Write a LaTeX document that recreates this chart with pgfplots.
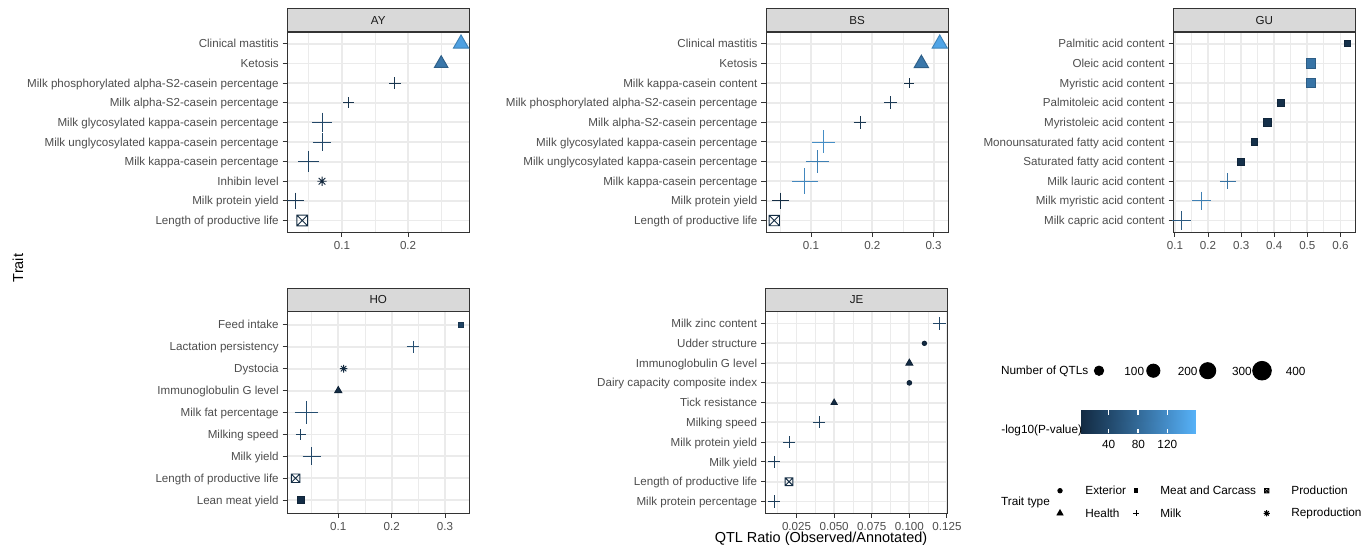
\documentclass[border=0pt]{standalone}
\usepackage{fontspec}
\setmainfont{Liberation Sans}
\usepackage{pgfplots}
\pgfplotsset{compat=1.18}
\definecolor{gray10}{HTML}{1A1A1A}
\definecolor{gray20}{HTML}{333333}
\definecolor{gray30}{HTML}{4D4D4D}
\definecolor{gray85}{HTML}{D9D9D9}
\definecolor{gray92}{HTML}{EBEBEB}
\newcommand\tfont{\fontsize{5.8}{6.5}\selectfont}
\newcommand\lfont{\fontsize{5.9}{6.6}\selectfont}
\newcommand\afont{\fontsize{7.24}{8.5}\selectfont}

\pgfdeclareplotmark{boxx}{%
  \pgfpathrectangle{\pgfqpoint{-\pgfplotmarksize}{-\pgfplotmarksize}}{\pgfqpoint{2\pgfplotmarksize}{2\pgfplotmarksize}}%
  \pgfpathmoveto{\pgfqpoint{-\pgfplotmarksize}{-\pgfplotmarksize}}\pgfpathlineto{\pgfqpoint{\pgfplotmarksize}{\pgfplotmarksize}}%
  \pgfpathmoveto{\pgfqpoint{-\pgfplotmarksize}{\pgfplotmarksize}}\pgfpathlineto{\pgfqpoint{\pgfplotmarksize}{-\pgfplotmarksize}}%
  \pgfusepathqstroke}
\pgfdeclareplotmark{rast}{%
  \pgfpathmoveto{\pgfqpoint{-\pgfplotmarksize}{0pt}}\pgfpathlineto{\pgfqpoint{\pgfplotmarksize}{0pt}}%
  \pgfpathmoveto{\pgfqpoint{0pt}{-\pgfplotmarksize}}\pgfpathlineto{\pgfqpoint{0pt}{\pgfplotmarksize}}%
  \pgfpathmoveto{\pgfqpoint{-0.7071\pgfplotmarksize}{-0.7071\pgfplotmarksize}}\pgfpathlineto{\pgfqpoint{0.7071\pgfplotmarksize}{0.7071\pgfplotmarksize}}%
  \pgfpathmoveto{\pgfqpoint{-0.7071\pgfplotmarksize}{0.7071\pgfplotmarksize}}\pgfpathlineto{\pgfqpoint{0.7071\pgfplotmarksize}{-0.7071\pgfplotmarksize}}%
  \pgfusepathqstroke}
\pgfdeclareplotmark{rtri}{%
  \pgfpathmoveto{\pgfqpoint{0pt}{\pgfplotmarksize}}%
  \pgfpathlineto{\pgfqpoint{0.866\pgfplotmarksize}{-0.5\pgfplotmarksize}}%
  \pgfpathlineto{\pgfqpoint{-0.866\pgfplotmarksize}{-0.5\pgfplotmarksize}}%
  \pgfpathclose\pgfusepathqfillstroke}

\pgfplotsset{
  colormap={qtl}{rgb255=(19,43,67) rgb255=(34,73,108) rgb255=(51,106,152) rgb255=(68,140,199) rgb255=(86,177,247)},
  sz/.style={visualization depends on={\thisrow{n} \as \qn},
     scatter/@pre marker code/.append style={/tikz/mark size={#1*sqrt(\qn)}}},
  pts/.style={only marks, scatter, point meta=explicit, mark options={line width=0.47pt, solid}},
  ext/.style={pts, mark=*, sz=0.2325},
  hlt/.style={pts, mark=rtri, sz=0.3615},
  meat/.style={pts, mark=square*, sz=0.206},
  milk/.style={pts, mark=+, sz=0.3288},
  prod/.style={pts, mark=boxx, sz=0.2325},
  repr/.style={pts, mark=rast, sz=0.3288},
  blk/.style={scatter/use mapped color={draw=black,fill=black}},
  panel/.style={
    scale only axis, anchor=south west, width=91pt,
    ymin=0.4,
    tick pos=left, tick align=outside,
    major tick length=2.3pt, minor tick length=0pt,
    tick style={gray20, line width=0.5pt},
    axis line style={gray20, line width=0.5pt},
    grid=both,
    major grid style={gray92, line width=0.9pt},
    minor grid style={gray92, line width=0.45pt},
    ticklabel style={font=\tfont, text=gray30, text height=4.1pt, text depth=0pt},
    yticklabel style={inner sep=1.8pt},
    xticklabel style={inner sep=2pt},
    scaled ticks=false,
    /pgf/number format/assume math mode=true,
    colormap name=qtl, point meta min=1.8, point meta max=158,
    every axis title/.style={at={(0.5,1)}, anchor=south, inner sep=0pt,
      minimum width=91pt, minimum height=11.4pt, fill=gray85, draw=gray20,
      line width=0.5pt, font=\tfont, text=gray10},
  },
}

\begin{document}
\begin{tikzpicture}
\useasboundingbox (0,0) rectangle (684.5pt,274pt);

% ---------------- AY
\begin{axis}[panel, at={(143.65pt,157.85pt)}, height=100.15pt, title={AY},
  xmin=0.0175, xmax=0.2925, ymax=10.6,
  xtick={0.1,0.2}, minor xtick={0.05,0.15,0.25},
  ytick={1,...,10},
  yticklabels={Length of productive life, Milk protein yield, Inhibin level, Milk kappa-casein percentage, Milk unglycosylated kappa-casein percentage, Milk glycosylated kappa-casein percentage, Milk alpha-S2-casein percentage, Milk phosphorylated alpha-S2-casein percentage, Ketosis, Clinical mastitis}]
\addplot[hlt] table[x=x,y=y,meta=p,row sep=\\]{y x p n\\ 10 0.28 140 150\\ 9 0.25 95 114\\};
\addplot[milk] table[x=x,y=y,meta=p,row sep=\\]{y x p n\\ 8 0.18 33 74\\ 7 0.11 30 66\\ 6 0.07 60 215\\ 5 0.07 60 194\\ 4 0.05 55 262\\ 2 0.03 40 161\\};
\addplot[repr] table[x=x,y=y,meta=p,row sep=\\]{y x p n\\ 3 0.07 10 50\\};
\addplot[prod] table[x=x,y=y,meta=p,row sep=\\]{y x p n\\ 1 0.04 15 135\\};
\end{axis}

% ---------------- BS
\begin{axis}[panel, at={(383pt,157.85pt)}, height=100.15pt, title={BS},
  xmin=0.0265, xmax=0.3235, ymax=10.6,
  xtick={0.1,0.2,0.3}, minor xtick={0.05,0.15,0.25},
  ytick={1,...,10},
  yticklabels={Length of productive life, Milk protein yield, Milk kappa-casein percentage, Milk unglycosylated kappa-casein percentage, Milk glycosylated kappa-casein percentage, Milk alpha-S2-casein percentage, Milk phosphorylated alpha-S2-casein percentage, Milk kappa-casein content, Ketosis, Clinical mastitis}]
\addplot[hlt] table[x=x,y=y,meta=p,row sep=\\]{y x p n\\ 10 0.31 145 150\\ 9 0.28 95 131\\};
\addplot[milk] table[x=x,y=y,meta=p,row sep=\\]{y x p n\\ 8 0.26 25 50\\ 7 0.23 40 93\\ 6 0.18 35 93\\ 5 0.12 158 306\\ 4 0.11 140 297\\ 3 0.09 150 390\\ 2 0.05 20 161\\};
\addplot[prod] table[x=x,y=y,meta=p,row sep=\\]{y x p n\\ 1 0.04 20 127\\};
\end{axis}

% ---------------- GU
\begin{axis}[panel, at={(586.65pt,157.85pt)}, height=100.15pt, title={GU},
  xmin=0.095, xmax=0.645, ymax=10.6,
  xtick={0.1,0.2,0.3,0.4,0.5,0.6}, minor xtick={0.15,0.25,0.35,0.45,0.55},
  ytick={1,...,10},
  yticklabels={Milk capric acid content, Milk myristic acid content, Milk lauric acid content, Saturated fatty acid content, Monounsaturated fatty acid content, Myristoleic acid content, Palmitoleic acid content, Myristic acid content, Oleic acid content, Palmitic acid content}]
\addplot[meat] table[x=x,y=y,meta=p,row sep=\\]{y x p n\\ 10 0.62 8 53\\ 9 0.51 92 128\\ 8 0.51 92 128\\ 7 0.42 8 66\\ 6 0.38 8 80\\ 5 0.34 8 66\\ 4 0.30 8 70\\};
\addplot[milk] table[x=x,y=y,meta=p,row sep=\\]{y x p n\\ 3 0.26 123 148\\ 2 0.18 140 201\\ 1 0.12 88 194\\};
\end{axis}

% ---------------- HO
\begin{axis}[panel, at={(143.65pt,17.35pt)}, height=100.8pt, title={HO},
  xmin=0.0045, xmax=0.3455, ymax=9.6,
  xtick={0.1,0.2,0.3}, minor xtick={0.05,0.15,0.25},
  ytick={1,...,9},
  yticklabels={Lean meat yield, Length of productive life, Milk yield, Milking speed, Milk fat percentage, Immunoglobulin G level, Dystocia, Lactation persistency, Feed intake}]
\addplot[meat] table[x=x,y=y,meta=p,row sep=\\]{y x p n\\ 9 0.33 33 37\\ 1 0.03 5 66\\};
\addplot[milk] table[x=x,y=y,meta=p,row sep=\\]{y x p n\\ 8 0.24 72 88\\ 5 0.04 70 314\\ 4 0.03 50 66\\ 3 0.05 60 187\\};
\addplot[repr] table[x=x,y=y,meta=p,row sep=\\]{y x p n\\ 7 0.11 15 34\\};
\addplot[hlt] table[x=x,y=y,meta=p,row sep=\\]{y x p n\\ 6 0.10 5 31\\};
\addplot[prod] table[x=x,y=y,meta=p,row sep=\\]{y x p n\\ 2 0.02 20 84\\};
\end{axis}

% ---------------- JE
\begin{axis}[panel, at={(382.85pt,17.35pt)}, height=100.8pt, title={JE},
  xmin=0.0045, xmax=0.1255, ymax=10.6,
  xtick={0.025,0.05,0.075,0.1,0.125}, minor xtick={0.0125,0.0375,0.0625,0.0875,0.1125},
  xticklabel style={/pgf/number format/.cd, fixed, fixed zerofill, precision=3},
  ytick={1,...,10},
  yticklabels={Milk protein percentage, Length of productive life, Milk yield, Milk protein yield, Milking speed, Tick resistance, Dairy capacity composite index, Immunoglobulin G level, Udder structure, Milk zinc content}]
\addplot[milk] table[x=x,y=y,meta=p,row sep=\\]{y x p n\\ 10 0.12 60 88\\ 5 0.04 50 83\\ 4 0.02 50 83\\ 3 0.01 45 83\\ 1 0.01 45 93\\};
\addplot[ext] table[x=x,y=y,meta=p,row sep=\\]{y x p n\\ 9 0.11 3 22\\ 7 0.10 3 25\\};
\addplot[hlt] table[x=x,y=y,meta=p,row sep=\\]{y x p n\\ 8 0.10 3 29\\ 6 0.05 3 23\\};
\addplot[prod] table[x=x,y=y,meta=p,row sep=\\]{y x p n\\ 2 0.02 20 70\\};
\end{axis}

% ---------------- colour bar
\begin{axis}[at={(540.35pt,57.35pt)}, anchor=south west, scale only axis, width=57.15pt, height=11.5pt,
  xmin=1.8, xmax=158, ymin=0, ymax=1, enlargelimits=false,
  axis line style={draw=none}, xtick={40,80,120}, ytick=\empty, xticklabels={},
  tick align=inside, tick pos=both, major tick length=2.3pt, tick style={white, line width=0.6pt},
  axis on top, colormap name=qtl, point meta min=1.8, point meta max=158]
\addplot[surf, shader=interp, point meta=x, mesh/cols=2] coordinates {(1.8,0) (158,0) (1.8,1) (158,1)};
\end{axis}

% ---------------- overlay: titles and legends (pixel coordinates)
\begin{axis}[at={(0pt,0pt)}, anchor=south west, scale only axis, width=684.5pt, height=274pt,
  xmin=0, xmax=1369, ymin=0, ymax=548, hide axis, clip=false,
  colormap name=qtl, point meta min=1.8, point meta max=158]
\node[rotate=90, font=\afont] at (axis cs:18,280) {Trait};
\node[font=\afont] at (axis cs:821,9.7) {QTL Ratio (Observed/Annotated)};
% size legend
\node[anchor=west, font=\lfont] at (axis cs:994,177) {Number of QTLs};
\addplot[blk, ext] table[x=x,y=y,meta=n,row sep=\\]{x y n\\ 1099 177.3 100\\ 1153.3 177.3 200\\ 1207.7 177.3 300\\ 1262 177.3 400\\};
\node[anchor=west, font=\lfont] at (axis cs:1117.3,177) {100};
\node[anchor=west, font=\lfont] at (axis cs:1170.7,177) {200};
\node[anchor=west, font=\lfont] at (axis cs:1225,177) {300};
\node[anchor=west, font=\lfont] at (axis cs:1278.7,177) {400};
% colour legend
\node[anchor=west, font=\lfont] at (axis cs:994.3,117.3) {-log10(P-value)};
\node[font=\lfont] at (axis cs:1108.7,104) {40};
\node[font=\lfont] at (axis cs:1138.3,104) {80};
\node[font=\lfont] at (axis cs:1167.3,104) {120};
% trait type legend
\node[anchor=west, font=\lfont] at (axis cs:994,45.3) {Trait type};
\addplot[blk, ext] table[x=x,y=y,meta=n,row sep=\\]{x y n\\ 1060 57.3 22\\};
\addplot[blk, hlt] table[x=x,y=y,meta=n,row sep=\\]{x y n\\ 1060 34.7 22\\};
\addplot[blk, meat] table[x=x,y=y,meta=n,row sep=\\]{x y n\\ 1136 57.3 22\\};
\addplot[blk, milk] table[x=x,y=y,meta=n,row sep=\\]{x y n\\ 1136 34.7 22\\};
\addplot[blk, prod] table[x=x,y=y,meta=n,row sep=\\]{x y n\\ 1266.7 57.3 22\\};
\addplot[blk, repr] table[x=x,y=y,meta=n,row sep=\\]{x y n\\ 1266.7 34.7 22\\};
\node[anchor=west, font=\lfont] at (axis cs:1078.3,57.3) {Exterior};
\node[anchor=west, font=\lfont] at (axis cs:1078.3,34.7) {Health};
\node[anchor=west, font=\lfont] at (axis cs:1153.3,57.3) {Meat and Carcass};
\node[anchor=west, font=\lfont] at (axis cs:1153.3,34.7) {Milk};
\node[anchor=west, font=\lfont] at (axis cs:1284.3,57.3) {Production};
\node[anchor=west, font=\lfont] at (axis cs:1284.3,34.7) {Reproduction};
\end{axis}
\end{tikzpicture}
\end{document}
